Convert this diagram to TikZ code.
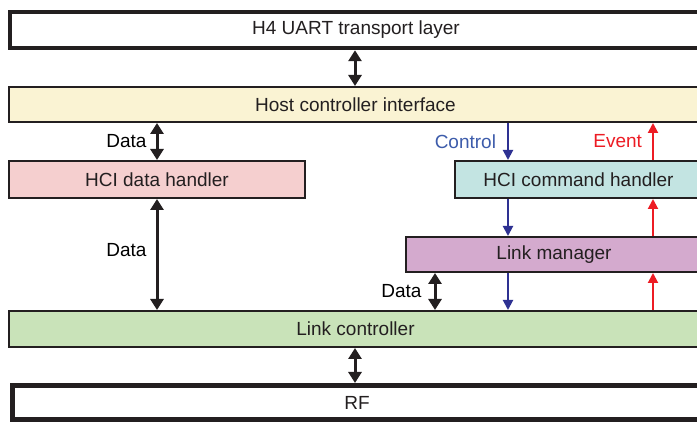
\documentclass[tikz,border=0pt]{standalone}
\usepackage{fontspec}
\setmainfont{Liberation Sans}
\usetikzlibrary{arrows.meta}
\definecolor{ink}{HTML}{231F20}
\definecolor{hciY}{HTML}{FAF3D3}
\definecolor{dataP}{HTML}{F5CFCF}
\definecolor{cmdC}{HTML}{C3E4E2}
\definecolor{lmM}{HTML}{D4AACE}
\definecolor{lcG}{HTML}{C9E3B9}
\definecolor{ctlB}{HTML}{2E3192}
\definecolor{ctlT}{HTML}{3D5CAB}
\definecolor{evtR}{HTML}{ED1C24}
\tikzset{
  layerbox/.style={draw=ink, line width=2pt, inner sep=0pt, text=ink,
    font=\fontsize{19}{22}\selectfont},
  heavybox/.style={layerbox, fill=white},
  dblarrow/.style={draw=ink, line width=3pt,
    {Triangle[length=11pt,width=13pt]}-{Triangle[length=11pt,width=13pt]}},
  ctlarrow/.style={draw=ctlB, line width=2pt, -{Triangle[length=10pt,width=10pt]}},
  evtarrow/.style={draw=evtR, line width=2pt, -{Triangle[length=10pt,width=10pt]}},
  lbl/.style={font=\fontsize{19}{22}\selectfont, inner sep=0pt, anchor=east}
}
\begin{document}
\begin{tikzpicture}[x=1pt,y=-1pt]
\clip (0,0) rectangle (697,422);
\fill[white] (0,0) rectangle (697,422);
% boxes
\node[heavybox, line width=4.5pt, minimum width=692pt, minimum height=36pt] (h4) at (356,30) {H4 UART transport layer};
\node[layerbox, fill=hciY, minimum width=693pt, minimum height=35pt] (hci) at (355.5,104.5) {Host controller interface};
\node[layerbox, fill=dataP, minimum width=296pt, minimum height=37pt] (dh) at (157,179.5) {HCI data handler};
\node[layerbox, fill=cmdC, minimum width=247pt, minimum height=37pt] (cmd) at (578.5,179.5) {HCI command handler};
\node[layerbox, fill=lmM, minimum width=296pt, minimum height=35pt] (lm) at (554,254.5) {Link manager};
\node[layerbox, fill=lcG, minimum width=693pt, minimum height=36pt] (lc) at (355.5,329) {Link controller};
\node[heavybox, line width=5pt, minimum width=689pt, minimum height=34.5pt] (rf) at (357,402.75) {RF};
% connector columns
\coordinate (xa) at (355,0);
\coordinate (xctl) at (508,0);
\coordinate (xevt) at (653,0);
\coordinate (xd) at (435,0);
% arrows
\draw[dblarrow] (h4.south -| xa) -- (hci.north -| xa);
\draw[dblarrow] (dh.north |- hci.south) -- (dh.north) node[midway, lbl, xshift=-9pt] {Data};
\draw[dblarrow] (dh.south) -- (dh.south |- lc.north) node[pos=0.46, lbl, xshift=-9pt] {Data};
\draw[ctlarrow] (hci.south -| xctl) -- (cmd.north -| xctl) node[midway, lbl, xshift=-11pt, text=ctlT] {Control};
\draw[ctlarrow] (cmd.south -| xctl) -- (lm.north -| xctl);
\draw[ctlarrow] (lm.south -| xctl) -- (lc.north -| xctl);
\draw[evtarrow] (cmd.north -| xevt) -- (hci.south -| xevt) node[midway, lbl, xshift=-10pt, text=evtR] {Event};
\draw[evtarrow] (lm.north -| xevt) -- (cmd.south -| xevt);
\draw[evtarrow] (lc.north -| xevt) -- (lm.south -| xevt);
\draw[dblarrow] (lm.south -| xd) -- (lc.north -| xd) node[midway, lbl, xshift=-12pt] {Data};
\draw[dblarrow] (lc.south -| xa) -- (rf.north -| xa);
\end{tikzpicture}
\end{document}
